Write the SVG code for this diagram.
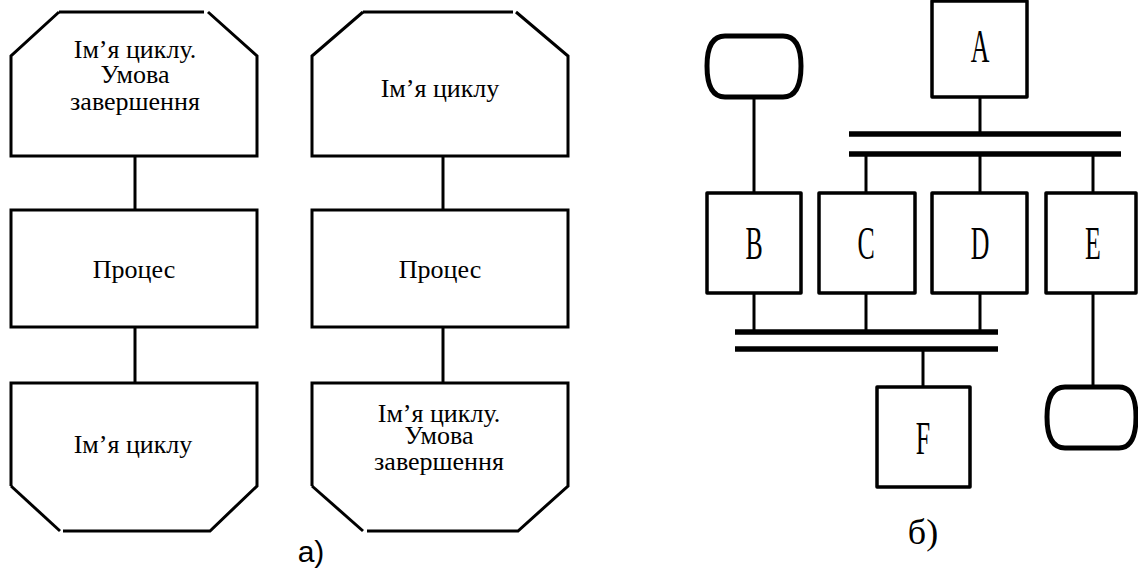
<svg xmlns="http://www.w3.org/2000/svg" width="1138" height="572" viewBox="0 0 1138 572">
  <style>
    .sh { fill: none; stroke: #000; stroke-width: 3; stroke-linejoin: miter; }
    .bx { fill: #fff; stroke: #000; stroke-width: 3.5; stroke-linejoin: round; }
    .term { fill: #fff; stroke: #000; stroke-width: 5; }
    .ln { stroke: #000; stroke-width: 3; fill: none; }
    .bus { stroke: #000; stroke-width: 5.5; fill: none; }
    .t { font-size: 26px; text-anchor: middle; fill: #000; }
    .lt { font-size: 47px; text-anchor: middle; fill: #000; }
    .cap { font-size: 30px; text-anchor: middle; fill: #000; }
    .capb { font-size: 36px; text-anchor: middle; fill: #000; }
  </style>
  <rect width="1138" height="572" fill="#fff"/>

  <!-- connectors -->
  <g id="connectors">
    <!-- part a -->
    <line class="ln" x1="135" y1="156" x2="135" y2="210"/>
    <line class="ln" x1="135" y1="327" x2="135" y2="383"/>
    <line class="ln" x1="443" y1="156" x2="443" y2="210"/>
    <line class="ln" x1="443" y1="327" x2="443" y2="383"/>
    <!-- part b -->
    <line class="ln" x1="980" y1="97" x2="980" y2="134"/>
    <line class="bus" x1="849" y1="134" x2="1121" y2="134"/>
    <line class="bus" x1="849" y1="154" x2="1121" y2="154"/>
    <line class="ln" x1="866" y1="154" x2="866" y2="193"/>
    <line class="ln" x1="980" y1="154" x2="980" y2="193"/>
    <line class="ln" x1="1093" y1="154" x2="1093" y2="193"/>
    <line class="ln" x1="754" y1="97" x2="754" y2="193"/>
    <line class="ln" x1="754" y1="293" x2="754" y2="332"/>
    <line class="ln" x1="866" y1="293" x2="866" y2="332"/>
    <line class="ln" x1="980" y1="293" x2="980" y2="332"/>
    <line class="bus" x1="735" y1="332" x2="998" y2="332"/>
    <line class="bus" x1="735" y1="349" x2="998" y2="349"/>
    <line class="ln" x1="923" y1="349" x2="923" y2="387"/>
    <line class="ln" x1="1093" y1="293" x2="1093" y2="387"/>
  </g>

  <g font-family="'Liberation Serif', 'DejaVu Serif', serif">
  <!-- part a, column 1 -->
  <g id="loop-start-1">
    <polyline class="sh" points="59,12 11,56 11,156 257,156 257,56 208,12"/>
    <line class="sh" x1="59" y1="12" x2="204" y2="12"/>
    <text class="t" x="135" y="58">Ім’я циклу.</text>
    <text class="t" x="135" y="83">Умова</text>
    <text class="t" x="135" y="110">завершення</text>
  </g>
  <g id="process-1">
    <rect class="sh" x="11" y="210" width="246" height="117"/>
    <text class="t" x="134" y="278">Процес</text>
  </g>
  <g id="loop-end-1">
    <polyline class="sh" points="11,486 11,383 257,383 257,486 210,531 63,531"/>
    <line class="sh" x1="11" y1="486" x2="60" y2="531"/>
    <text class="t" x="133" y="453">Ім’я циклу</text>
  </g>

  <!-- part a, column 2 -->
  <g id="loop-start-2">
    <polyline class="sh" points="363,12 312,56 312,156 568,156 568,56 516,12"/>
    <line class="sh" x1="363" y1="12" x2="513" y2="12"/>
    <text class="t" x="440" y="97">Ім’я циклу</text>
  </g>
  <g id="process-2">
    <rect class="sh" x="312" y="210" width="256" height="117"/>
    <text class="t" x="440" y="278">Процес</text>
  </g>
  <g id="loop-end-2">
    <polyline class="sh" points="367,531 518,531 568,486 568,383 312,383 312,486"/>
    <line class="sh" x1="312" y1="486" x2="363" y2="531"/>
    <text class="t" x="439" y="422">Ім’я циклу.</text>
    <text class="t" x="439" y="444">Умова</text>
    <text class="t" x="439" y="470">завершення</text>
  </g>

  <!-- part b -->
  <g id="terminal-top">
    <path class="term" d="M725,36 H783 C797,36 801,50 801,66 C801,82 797,97 783,97 H725 C711,97 707,82 707,66 C707,50 711,36 725,36 Z"/>
  </g>
  <g id="node-A">
    <rect class="bx" x="932" y="1" width="95" height="96"/>
    <text class="lt" transform="translate(980,62) scale(0.55,1)">A</text>
  </g>
  <g id="node-B">
    <rect class="bx" x="707" y="193" width="94" height="100"/>
    <text class="lt" transform="translate(754,259) scale(0.55,1)">B</text>
  </g>
  <g id="node-C">
    <rect class="bx" x="819" y="193" width="96" height="100"/>
    <text class="lt" transform="translate(866,259) scale(0.55,1)">C</text>
  </g>
  <g id="node-D">
    <rect class="bx" x="932" y="193" width="95" height="100"/>
    <text class="lt" transform="translate(980,259) scale(0.55,1)">D</text>
  </g>
  <g id="node-E">
    <rect class="bx" x="1046" y="193" width="90" height="100"/>
    <text class="lt" transform="translate(1093,259) scale(0.55,1)">E</text>
  </g>
  <g id="node-F">
    <rect class="bx" x="877" y="387" width="93" height="100"/>
    <text class="lt" transform="translate(923,454) scale(0.55,1)">F</text>
  </g>
  <g id="terminal-bottom">
    <path class="term" d="M1065,387 H1119 C1133,387 1136,401 1136,417 C1136,433 1133,448 1119,448 H1065 C1051,448 1047,433 1047,417 C1047,401 1051,387 1065,387 Z"/>
  </g>
  <text class="capb" x="923" y="544">б)</text>
  </g>
  <text class="cap" x="311" y="562" font-family="'Liberation Sans', Arial, sans-serif">а)</text>
</svg>
